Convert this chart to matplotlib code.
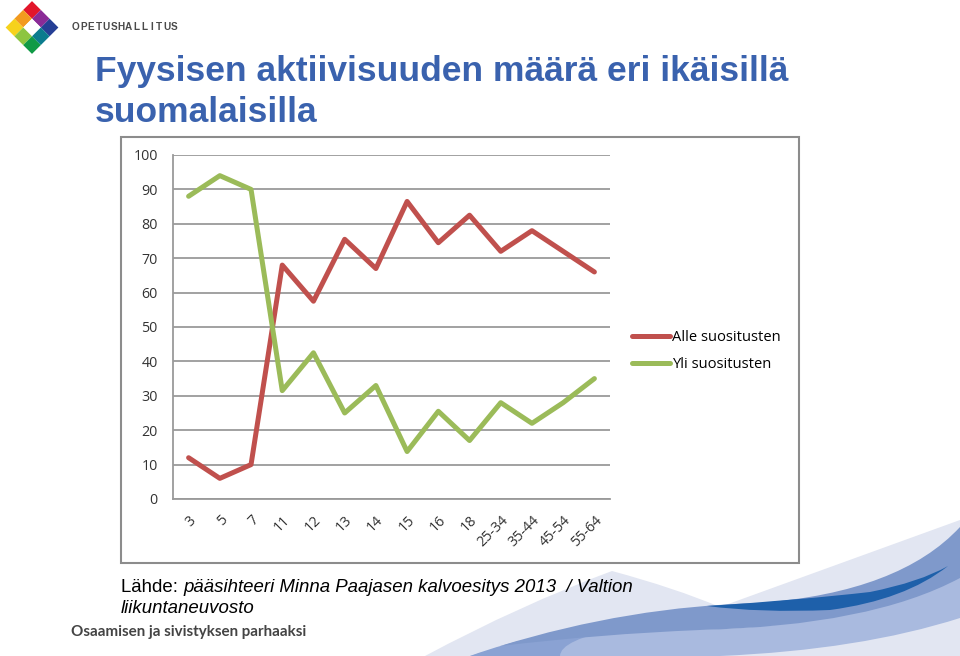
import numpy as np
import matplotlib.pyplot as plt
from matplotlib.patches import Rectangle, Polygon, PathPatch
from matplotlib.path import Path

categories = ["3", "5", "7", "11", "12", "13", "14", "15", "16", "18",
              "25-34", "35-44", "45-54", "55-64"]
alle = [12, 6, 10, 68, 57.5, 75.5, 67, 86.5, 74.5, 82.5, 72, 78, 72, 66]
yli = [88, 94, 90, 31.5, 42.5, 25, 33, 13.8, 25.5, 17, 28, 22, 28, 35]
yticks = list(range(0, 101, 10))

W, H = 960, 656
fig = plt.figure(figsize=(W / 100, H / 100), dpi=100)

# background layer in pixel coordinates
bg = fig.add_axes([0, 0, 1, 1])
bg.set_xlim(0, W)
bg.set_ylim(H, 0)
bg.axis("off")


def swoosh(segs, color, z=1):
    verts, codes = [], []
    for seg in segs:
        if seg[0] == "M":
            verts.append(seg[1]); codes.append(Path.MOVETO)
        elif seg[0] == "L":
            verts.append(seg[1]); codes.append(Path.LINETO)
        else:  # quadratic: control, end
            verts += [seg[1], seg[2]]; codes += [Path.CURVE3, Path.CURVE3]
    verts.append(verts[0]); codes.append(Path.CLOSEPOLY)
    bg.add_patch(PathPatch(Path(verts, codes), facecolor=color, edgecolor="none", zorder=z))


# decorative waves bottom right
swoosh([("M", (425, 656)), ("Q", (520, 605), (612, 571)), ("Q", (675, 588), (720, 607)),
        ("L", (960, 520)), ("L", (960, 656))], "#e2e6f2", 1)
swoosh([("M", (470, 656)), ("Q", (560, 628), (680, 630)), ("Q", (850, 630), (960, 572)),
        ("L", (960, 618)), ("Q", (860, 650), (720, 656))], "#a9badf", 2)
swoosh([("M", (470, 656)), ("Q", (540, 630), (620, 628)), ("Q", (560, 640), (560, 656))],
       "#8aa2d3", 2)
swoosh([("M", (500, 646)), ("Q", (630, 606), (760, 603)), ("Q", (900, 592), (960, 527)),
        ("L", (960, 578)), ("Q", (870, 626), (700, 630)), ("Q", (600, 634), (500, 646))],
       "#7f99cb", 3)
swoosh([("M", (707, 606)), ("Q", (800, 600), (870, 592)), ("Q", (920, 582), (948, 566)),
        ("Q", (905, 600), (830, 610)), ("Q", (760, 613), (707, 606))],
       "#1e60aa", 4)

# logo
cx, cy, s = 32, 27.5, 8.8
logo_cols = [["#e2162b", "#8a2b97", "#253f95"],
             ["#f29a1f", "#ffffff", "#0b7c8e"],
             ["#f6d21c", "#8dc540", "#109a45"]]
for i in range(3):
    for j in range(3):
        tx = cx + (j - i) * s
        ty = cy - 3 * s + (i + j) * s
        bg.add_patch(Polygon([(tx, ty), (tx + s, ty + s), (tx, ty + 2 * s), (tx - s, ty + s)],
                             closed=True, facecolor=logo_cols[i][j], edgecolor="none", zorder=5))
for k, ch in enumerate("OPETUSHALLITUS"):
    bg.text(76 + k * 7.55, 27, ch, fontsize=7.2, color="#4a4a4a", va="center", ha="center",
            family="Liberation Sans", fontweight="bold")

# title
bg.text(95, 72, "Fyysisen aktiivisuuden määrä eri ikäisillä", fontsize=25.5, fontweight="bold",
        color="#3a62ae", va="center", ha="left", family="Liberation Sans")
bg.text(95, 112, "suomalaisilla", fontsize=25.5, fontweight="bold",
        color="#3a62ae", va="center", ha="left", family="Liberation Sans")

# chart frame
bg.add_patch(Rectangle((121, 137), 678, 426, facecolor="white", edgecolor="#8c8c8c",
                       lw=1.5, zorder=6))

# source text
src_font = ["Liberation Sans Narrow", "Liberation Sans"]
t1 = bg.text(121, 592, "Lähde: ", fontsize=13.4, color="black", va="baseline", ha="left",
             family=src_font, zorder=7)
bg.annotate("pääsihteeri Minna Paajasen kalvoesitys 2013  / Valtion", xy=(1, 0),
            xycoords=t1, va="bottom", ha="left", fontsize=13.4, style="italic",
            family=src_font, zorder=7)
bg.text(121, 613, "liikuntaneuvosto", fontsize=13.4, style="italic", color="black",
        va="baseline", ha="left", family=src_font, zorder=7)
bg.text(71, 632, "Osaamisen ja sivistyksen parhaaksi", fontsize=10.9, fontweight="bold",
        color="#444444", va="center", ha="left", family="Lato", zorder=7)

# chart
ax = fig.add_axes([173 / W, 1 - 499 / H, (610 - 173) / W, (499 - 155) / H])
ax.set_zorder(8)
ax.patch.set_alpha(0)
x = np.arange(len(categories))
ax.plot(x, alle, color="#c0504d", lw=3.6, solid_joinstyle="round", solid_capstyle="round",
        label="Alle suositusten", zorder=4)
ax.plot(x, yli, color="#9bbb59", lw=3.6, solid_joinstyle="round", solid_capstyle="round",
        label="Yli suositusten", zorder=4)
ax.set_xlim(-0.5, len(categories) - 0.5)
ax.set_ylim(0, 100)
ax.set_yticks(yticks)
ax.yaxis.grid(True, color="#9a9a9a", lw=1.3)
ax.set_axisbelow(True)
ax.set_xticks(x)
ax.set_xticklabels(categories, rotation=45, ha="right", va="top", rotation_mode="anchor")
for lab in ax.get_xticklabels() + ax.get_yticklabels():
    lab.set_fontsize(10.3)
    lab.set_color("#333333")
    lab.set_family("Open Sans")
ax.tick_params(length=0)
ax.tick_params(axis="y", pad=11)
ax.tick_params(axis="x", pad=10)
for side in ["top", "right"]:
    ax.spines[side].set_visible(False)
for side in ["left", "bottom"]:
    ax.spines[side].set_color("#9a9a9a")
    ax.spines[side].set_linewidth(1.3)
ax.legend(loc="center left", bbox_to_anchor=(1.02, 0.43), frameon=False, handlelength=2.6,
          handletextpad=0.1, labelspacing=0.8, prop={"family": "Open Sans", "size": 10.6})

fig.savefig("out.png", dpi=100)
